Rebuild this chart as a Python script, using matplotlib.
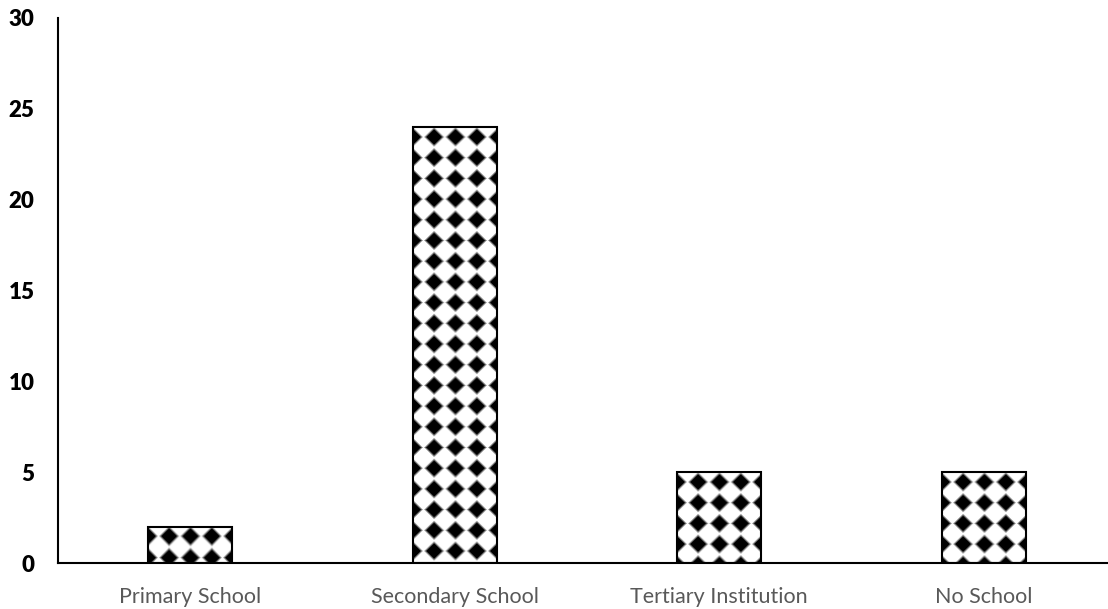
import numpy as np
import matplotlib
matplotlib.use('Agg')
import matplotlib.pyplot as plt

categories = ['Primary School', 'Secondary School', 'Tertiary Institution', 'No School']
counts = [2, 24, 5, 5]
yticks = [0, 5, 10, 15, 20, 25, 30]

plt.rcParams['font.family'] = ['Lato', 'DejaVu Sans']

fig = plt.figure(figsize=(11.08, 6.09), dpi=100)
ax = fig.add_axes([58 / 1108, 46 / 609, 1050 / 1108, 545 / 609])

x = np.arange(len(categories))
width = 0.318

ax.set_xlim(-0.5, 3.47)
ax.set_ylim(0, 30)


def diamond_pattern(w, h, px=21.0, py=20.7):
   # black diamonds on white, like the office "solid diamond" fill
   jj, ii = np.meshgrid(np.arange(w) + 0.5, np.arange(h) + 0.5)
   dx = np.mod(jj - px / 2, px) - px / 2
   dy = np.mod(ii - 10.0 + py / 2, py) - py / 2
   r = np.abs(dx) / (px / 2) + np.abs(dy) / (py / 2)
   v = np.clip((r - 0.68) / 0.32, 0, 1)
   return v


# white face, pattern image, then outline on top
ax.bar(x, counts, width=width, color='white', edgecolor='none', zorder=1)
for xi, c in zip(x, counts):
   x0, x1 = xi - width / 2, xi + width / 2
   p0 = ax.transData.transform((x0, 0))
   p1 = ax.transData.transform((x1, c))
   w = int(round(p1[0] - p0[0]))
   h = int(round(p1[1] - p0[1]))
   img = diamond_pattern(w, h)
   ax.imshow(img, cmap='gray', vmin=0, vmax=1, extent=(x0, x1, 0, c),
             aspect='auto', interpolation='antialiased', zorder=2)
ax.bar(x, counts, width=width, fill=False, edgecolor='black', linewidth=1.5, zorder=3)

ax.set_xlim(-0.5, 3.47)
ax.set_ylim(0, 30)

ax.set_xticks(x)
ax.set_xticklabels(categories, fontsize=15.5, color='#595959')
ax.set_yticks(yticks)
ax.set_yticklabels([str(t) for t in yticks], fontsize=16, fontweight='heavy', color='black')
ax.tick_params(axis='x', length=0, pad=17)
ax.tick_params(axis='y', length=0, pad=17)

for s in ['top', 'right']:
   ax.spines[s].set_visible(False)
for s in ['left', 'bottom']:
   ax.spines[s].set_linewidth(1.5)
   ax.spines[s].set_color('black')
ax.spines['bottom'].set_zorder(4)

plt.savefig('out.png', dpi=100)
